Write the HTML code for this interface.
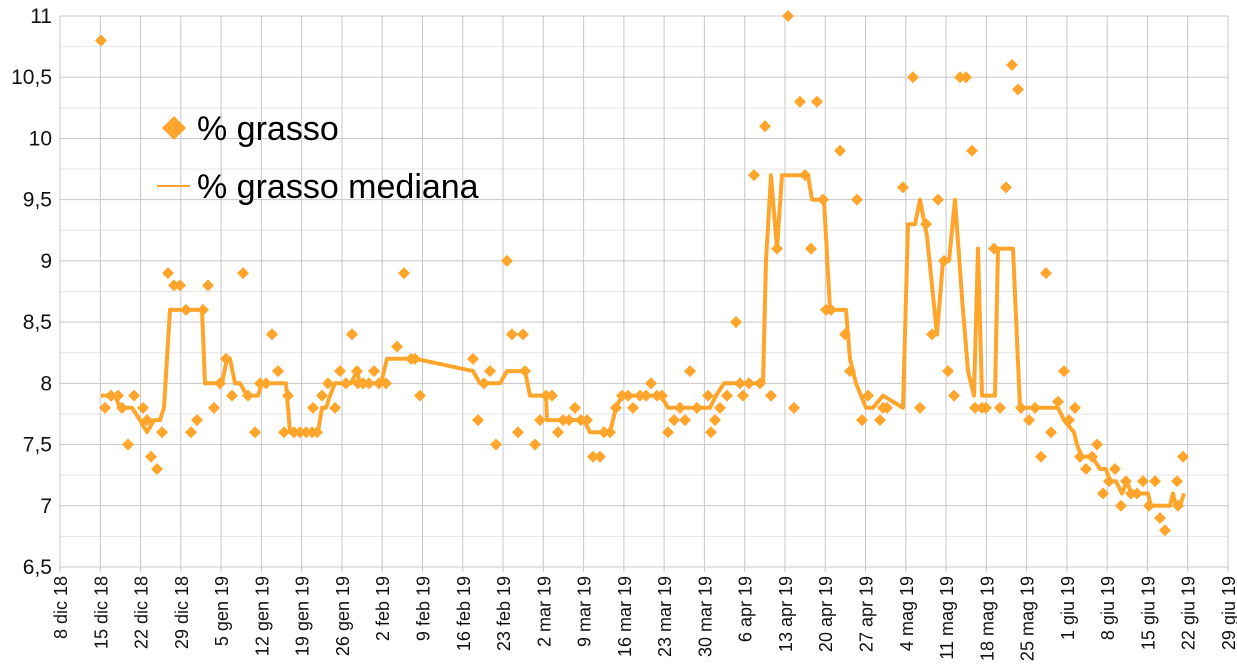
<!DOCTYPE html>
<html><head><meta charset="utf-8"><style>
html,body{margin:0;padding:0;background:#fff;}
svg{display:block;font-family:"Liberation Sans",sans-serif;}
</style></head><body>
<svg id="c" width="1237" height="667" xmlns="http://www.w3.org/2000/svg"></svg>
<script>
const s=document.getElementById('c');
const NS='http://www.w3.org/2000/svg';
function el(t,a,txt){const e=document.createElementNS(NS,t);for(const k in a)e.setAttribute(k,a[k]);if(txt!==undefined)e.textContent=txt;s.appendChild(e);return e;}
const X0=60,X1=1228,Y0=567,Y1=16;
const Y=v=>Y0-(v-6.5)*(Y0-Y1)/4.5;
for(let i=0;i<=18;i++){const y=Y(6.5+i*0.25);el('line',{x1:X0,x2:X1,y1:y,y2:y,stroke:i%2?'#e6e6e6':'#c8c8c8','stroke-width':1});}
const labs=["8 dic 18","15 dic 18","22 dic 18","29 dic 18","5 gen 19","12 gen 19","19 gen 19","26 gen 19","2 feb 19","9 feb 19","16 feb 19","23 feb 19","2 mar 19","9 mar 19","16 mar 19","23 mar 19","30 mar 19","6 apr 19","13 apr 19","20 apr 19","27 apr 19","4 mag 19","11 mag 19","18 mag 19","25 mag 19","1 giu 19","8 giu 19","15 giu 19","22 giu 19","29 giu 19"];
const dx=(X1-X0)/29;
labs.forEach((l,i)=>{const x=X0+i*dx;el('line',{x1:x,x2:x,y1:Y1,y2:Y0+5,stroke:'#c8c8c8','stroke-width':1});
el('text',{x:0,y:0,'font-size':18,fill:'#111','text-anchor':'end',transform:`translate(${x+7},${Y0+9}) rotate(-90)`},l);});
for(let i=0;i<=9;i++){const v=6.5+i*0.5;el('text',{x:52,y:Y(v)+7,'font-size':21,fill:'#111','text-anchor':'end'},String(v).replace('.',','));}
const med=[101,7.9,115,7.9,120,7.8,132,7.8,140,7.7,147,7.6,154,7.7,160,7.7,164,7.8,170,8.6,202,8.6,205,8.0,222,8.0,227,8.2,230,8.2,235,8.0,240,8.0,247,7.9,258,7.9,262,8.0,286,8.0,290,7.6,318,7.6,322,7.8,326,7.8,330,7.9,335,8.0,351,8.0,357,8.1,360,8.0,381,8.0,387,8.2,416,8.2,473,8.1,480,8.0,500,8.0,507,8.1,525,8.1,530,7.9,546,7.9,547,7.7,584,7.7,590,7.6,610,7.6,616,7.8,622,7.9,661,7.9,668,7.8,710,7.8,716,7.9,724,8.0,763,8.0,766,9.0,771,9.7,777,9.1,782,9.7,808,9.7,812,9.5,824,9.5,830,8.6,846,8.6,850,8.2,856,8.0,866,7.8,873,7.8,883,7.9,903,7.8,908,9.3,915,9.3,920,9.5,927,9.2,932,8.8,937,8.4,943,9.0,949,9.0,955,9.5,962,8.7,968,8.1,974,7.9,978,9.1,982,7.9,995,7.9,998,9.1,1013,9.1,1020,7.8,1058,7.8,1064,7.7,1074,7.6,1077,7.5,1082,7.4,1092,7.4,1100,7.3,1106,7.3,1110,7.2,1116,7.2,1122,7.1,1127,7.2,1131,7.1,1148,7.1,1151,7.0,1170,7.0,1173,7.1,1176,7.0,1180,7.0,1184,7.1];
let p='';for(let i=0;i<med.length;i+=2)p+=(i?' L':'M')+med[i]+' '+Y(med[i+1]).toFixed(1);
el('path',{d:p,fill:'none',stroke:'#ffa52c','stroke-width':4,'stroke-linejoin':'round'});
const pts=[101,10.8,105,7.8,111,7.9,118,7.9,122,7.8,128,7.5,134,7.9,143,7.8,147,7.7,151,7.4,157,7.3,162,7.6,168,8.9,174,8.8,180,8.8,186,8.6,191,7.6,197,7.7,203,8.6,208,8.8,214,7.8,220,8.0,226,8.2,232,7.9,243,8.9,248,7.9,255,7.6,260,8.0,266,8.0,272,8.4,278,8.1,288,7.9,284,7.6,294,7.6,300,7.6,306,7.6,312,7.6,317,7.6,313,7.8,322,7.9,328,8.0,335,7.8,340,8.1,346,8.0,352,8.4,357,8.1,358,8.0,363,8.0,369,8.0,374,8.1,379,8.0,386,8.0,397,8.3,404,8.9,411,8.2,415,8.2,420,7.9,473,8.2,478,7.7,484,8.0,490,8.1,496,7.5,507,9.0,512,8.4,518,7.6,523,8.4,525,8.1,535,7.5,540,7.7,546,7.9,552,7.9,558,7.6,563,7.7,569,7.7,575,7.8,581,7.7,587,7.7,593,7.4,600,7.4,604,7.6,610,7.6,616,7.8,622,7.9,628,7.9,633,7.8,640,7.9,646,7.9,651,8.0,657,7.9,662,7.9,668,7.6,674,7.7,680,7.8,685,7.7,690,8.1,697,7.8,708,7.9,711,7.6,715,7.7,720,7.8,727,7.9,736,8.5,740,8.0,743,7.9,749,8.0,754,9.7,760,8.0,765,10.1,771,7.9,777,9.1,788,11.0,794,7.8,800,10.3,805,9.7,811,9.1,817,10.3,823,9.5,826,8.6,831,8.6,840,9.9,845,8.4,850,8.1,857,9.5,862,7.7,868,7.9,880,7.7,883,7.8,887,7.8,903,9.6,913,10.5,920,7.8,926,9.3,932,8.4,938,9.5,944,9.0,948,8.1,954,7.9,960,10.5,966,10.5,972,9.9,975,7.8,982,7.8,986,7.8,994,9.1,1000,7.8,1006,9.6,1012,10.6,1018,10.4,1021,7.8,1029,7.7,1035,7.8,1041,7.4,1046,8.9,1051,7.6,1058,7.85,1064,8.1,1069,7.7,1075,7.8,1080,7.4,1086,7.3,1092,7.4,1097,7.5,1103,7.1,1109,7.2,1115,7.3,1121,7.0,1126,7.2,1131,7.1,1137,7.1,1143,7.2,1149,7.0,1155,7.2,1160,6.9,1165,6.8,1177,7.2,1183,7.4,1178,7.0];
for(let i=0;i<pts.length;i+=2){const x=pts[i],y=Y(pts[i+1]);el('path',{d:`M${x} ${y-6}L${x+6} ${y}L${x} ${y+6}L${x-6} ${y}Z`,fill:'#ffa52c'});}
el('path',{d:'M174 116L186 128L174 140L162 128Z',fill:'#ffa52c'});
el('text',{x:197,y:140,'font-size':34,fill:'#000'},'% grasso');
el('line',{x1:157,x2:190,y1:186,y2:186,stroke:'#ffa52c','stroke-width':2});
el('text',{x:197,y:198,'font-size':34,fill:'#000'},'% grasso mediana');
</script>
</body></html>
